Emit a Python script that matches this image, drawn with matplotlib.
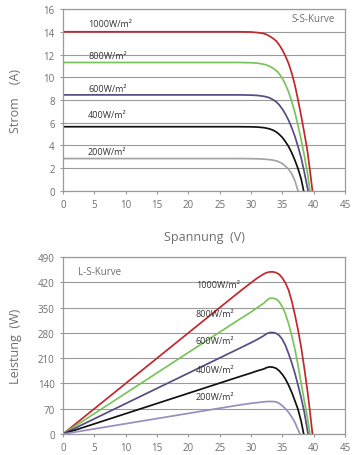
import matplotlib
matplotlib.use("Agg")
import matplotlib.pyplot as plt

plt.rcParams["font.family"] = ["Open Sans", "DejaVu Sans"]

labels = ["1000W/m²", "800W/m²", "600W/m²", "400W/m²", "200W/m²"]

# common voltage steps, each curve ends at its own Voc
knee = [0, 28, 30, 31, 32, 32.5, 33, 33.5, 34, 34.5, 35, 35.5, 36, 36.5, 37, 37.5]
v_ends = [
    [38, 38.5, 39, 39.4, 39.8],
    [38, 38.5, 39, 39.4],
    [38, 38.5, 39.1],
    [38, 38.4],
    [],
]
v_last = [None, None, None, None, 37.5]

# I-V curves (Strom A)
iv_i = [
    [14.0, 14.0, 13.98, 13.93, 13.85, 13.75, 13.6, 13.42, 13.2, 12.85, 12.4, 11.85,
     11.2, 10.35, 9.3, 8.0, 6.6, 5.1, 3.5, 1.8, 0],
    [11.3, 11.3, 11.28, 11.24, 11.15, 11.07, 10.95, 10.8, 10.6, 10.3, 9.9, 9.35,
     8.7, 7.85, 6.9, 5.75, 4.5, 3.1, 1.6, 0],
    [8.45, 8.45, 8.43, 8.4, 8.33, 8.27, 8.18, 8.03, 7.85, 7.57, 7.2, 6.75,
     6.2, 5.55, 4.8, 3.9, 2.9, 1.65, 0],
    [5.65, 5.65, 5.64, 5.62, 5.57, 5.52, 5.45, 5.35, 5.2, 4.98, 4.7, 4.33,
     3.9, 3.35, 2.7, 1.95, 1.05, 0],
    [2.85, 2.85, 2.84, 2.83, 2.8, 2.78, 2.75, 2.71, 2.65, 2.55, 2.4, 2.18,
     1.9, 1.5, 0.9, 0],
]

# P-V curves (Leistung W)
pv_p = [
    [0, 392, 419, 432, 443, 447, 449, 449, 447, 442, 432, 418,
     398, 368, 330, 288, 240, 182, 120, 62, 0],
    [0, 316, 338, 350, 362, 370, 376, 376, 374, 366, 352, 332,
     305, 272, 235, 190, 140, 92, 45, 0],
    [0, 236, 253, 262, 272, 278, 281, 281, 279, 273, 262, 245,
     222, 197, 168, 135, 100, 60, 0],
    [0, 158, 169, 175, 180, 184, 186, 185, 182, 175, 165, 152,
     135, 115, 92, 68, 35, 0],
    [0, 80, 85, 87, 89, 90, 90, 90, 89, 85, 78, 70,
     60, 47, 32, 0],
]
pv_end_200 = 37.8

iv_colors = ["#c1272d", "#7ac35a", "#574a86", "#111111", "#a3a3a3"]
pv_colors = ["#c1272d", "#7ac35a", "#574a86", "#111111", "#9a8dbf"]

iv_label_y = [14.75, 11.95, 9.05, 6.7, 3.45]
pv_label_y = [413, 335, 258, 180, 103]

grey = "#9a9a9a"
text_grey = "#6e6e6e"

fig = plt.figure(figsize=(3.64, 4.56), dpi=100)
ax1 = fig.add_axes([0.173, 0.579, 0.775, 0.399])
ax2 = fig.add_axes([0.173, 0.046, 0.775, 0.388])


def style(ax):
    for s in ax.spines.values():
        s.set_color(grey)
        s.set_linewidth(0.9)
    ax.grid(axis="y", color=grey, linewidth=0.8)
    ax.set_axisbelow(True)
    ax.tick_params(colors=grey, labelcolor=text_grey, labelsize=7,
                   length=2, width=0.8, pad=4)
    ax.set_xlim(0, 45)
    ax.set_xticks(range(0, 46, 5))


style(ax1)
style(ax2)
for k in range(len(labels)):
    if k == 4:
        v_iv = knee
        v_pv = knee[:-1] + [pv_end_200]
    else:
        v_iv = knee + v_ends[k]
        v_pv = v_iv
    ax1.plot(v_iv, iv_i[k], color=iv_colors[k], linewidth=1.25,
             solid_joinstyle="round")
    ax2.plot(v_pv, pv_p[k], color=pv_colors[k], linewidth=1.25,
             solid_joinstyle="round")

for lab, y in zip(labels, iv_label_y):
    ax1.text(4.0, y, lab, fontsize=6.5, color="#333333", va="center")
ax1.set_ylim(0, 16)
ax1.set_yticks(range(0, 17, 2))
ax1.text(43.3, 15.2, "S-S-Kurve", fontsize=7, color=text_grey,
         ha="right", va="center")
ax1.set_ylabel("Strom    (A)", fontsize=9, color=text_grey)
ax1.yaxis.set_label_coords(-0.145, 0.5)
ax1.set_xlabel("Spannung  (V)", fontsize=9, color=text_grey, labelpad=14)

for lab, y in zip(labels, pv_label_y):
    ax2.text(21.2, y, lab, fontsize=6.5, color="#333333", va="center")
ax2.set_ylim(0, 490)
ax2.set_yticks(range(0, 491, 70))
ax2.text(2.4, 451, "L-S-Kurve", fontsize=7, color=text_grey,
         ha="left", va="center")
ax2.set_ylabel("Leistung  (W)", fontsize=9, color=text_grey)
ax2.yaxis.set_label_coords(-0.145, 0.5)

fig.savefig("out.png", dpi=100)
